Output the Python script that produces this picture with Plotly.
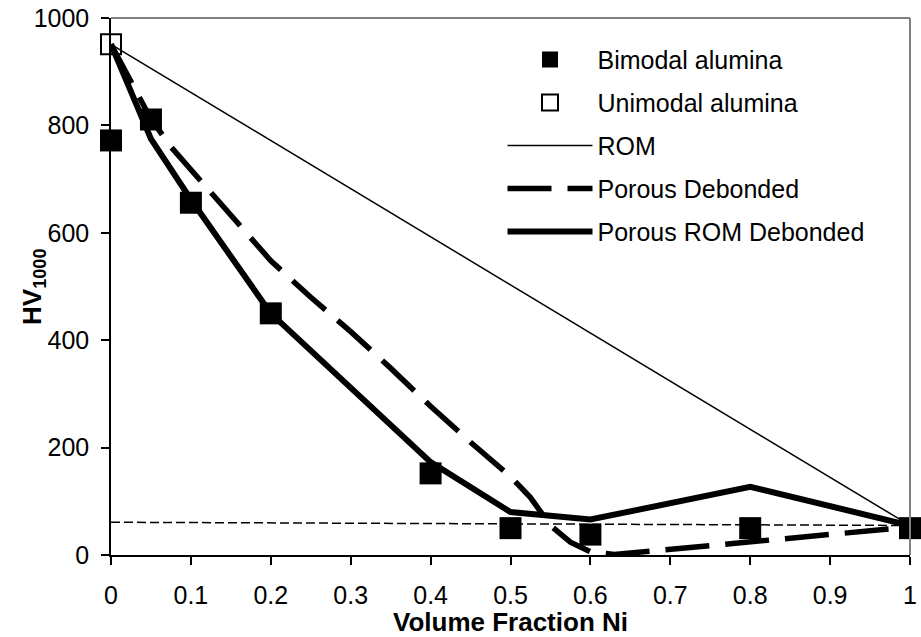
import plotly.graph_objects as go

# ---- data ----
bimodal_x = [0, 0.05, 0.1, 0.2, 0.4, 0.5, 0.6, 0.8, 1.0]
bimodal_y = [772, 811, 656, 450, 152, 50, 38, 50, 50]

unimodal_x = [0]
unimodal_y = [951]

rom_x = [0, 1.0]
rom_y = [951, 55]

pdeb_x = [0, 0.025, 0.05, 0.075, 0.1, 0.15, 0.2, 0.25, 0.3, 0.35, 0.4, 0.45,
          0.5, 0.525, 0.55, 0.575, 0.6, 0.63, 0.8, 1.0]
pdeb_y = [951, 880, 812, 760, 717, 632, 548, 480, 416, 348, 277, 210,
          146, 107, 55, 24, 6, 1, 25, 52]

prom_x = [0, 0.05, 0.1, 0.2, 0.4, 0.5, 0.6, 0.8, 1.0]
prom_y = [951, 775, 662, 450, 173, 80, 66, 127, 55]

hline_x = [0, 1.0]
hline_y = [61, 55]

x_ticks = [0, 0.1, 0.2, 0.3, 0.4, 0.5, 0.6, 0.7, 0.8, 0.9, 1.0]
x_ticklabels = ["0", "0.1", "0.2", "0.3", "0.4", "0.5", "0.6", "0.7", "0.8", "0.9", "1"]
y_ticks = [0, 200, 400, 600, 800, 1000]

FONT = "Liberation Sans, Arial, sans-serif"

fig = go.Figure()

fig.add_trace(go.Scatter(
    x=hline_x, y=hline_y, mode="lines", showlegend=False,
    line=dict(color="black", width=1.5, dash="9px,4px"), cliponaxis=False,
    hoverinfo="skip"))

fig.add_trace(go.Scatter(
    x=unimodal_x, y=unimodal_y, mode="markers", name="Unimodal alumina",
    legendgroup="g2", legendrank=2,
    marker=dict(symbol="square-open", size=20, color="black", line=dict(width=2, color="black")),
    cliponaxis=False))

fig.add_trace(go.Scatter(
    x=rom_x, y=rom_y, mode="lines", name="ROM", legendgroup="g3", legendrank=3,
    line=dict(color="black", width=1.5), cliponaxis=False))

fig.add_trace(go.Scatter(
    x=pdeb_x, y=pdeb_y, mode="lines", name="Porous Debonded", legendgroup="g4", legendrank=4,
    line=dict(color="black", width=5.5, dash="44px,16px"), cliponaxis=False))

fig.add_trace(go.Scatter(
    x=prom_x, y=prom_y, mode="lines", name="Porous ROM Debonded", legendgroup="g5", legendrank=5,
    line=dict(color="black", width=6), cliponaxis=False))

fig.add_trace(go.Scatter(
    x=bimodal_x, y=bimodal_y, mode="markers", name="Bimodal alumina",
    legendgroup="g1", legendrank=1,
    marker=dict(symbol="square", size=22, color="black"), cliponaxis=False))

fig.update_layout(
    width=921, height=637,
    margin=dict(l=111, r=4, t=17, b=82),
    paper_bgcolor="white", plot_bgcolor="white",
    font=dict(family=FONT, size=25, color="black"),
    showlegend=True,
    legend=dict(
        x=0.49, xanchor="left", y=0.965, yanchor="top",
        bgcolor="rgba(0,0,0,0)", borderwidth=0,
        font=dict(family=FONT, size=25, color="black"),
        traceorder="grouped", tracegroupgap=7.5, itemwidth=85,
    ),
    xaxis=dict(
        range=[0, 1], tickmode="array", tickvals=x_ticks, ticktext=x_ticklabels,
        showgrid=False, zeroline=False, showline=True, linecolor="black", linewidth=1.5,
        ticks="outside", ticklen=8, tickwidth=1.5, tickcolor="black",
        tickfont=dict(family=FONT, size=25), ticklabelstandoff=9,
        ticklabeloverflow="allow",
        title=dict(text="<b>Volume Fraction Ni</b>", font=dict(family=FONT, size=26), standoff=4),
    ),
    yaxis=dict(
        range=[0, 1000], tickmode="array", tickvals=y_ticks,
        showgrid=False, zeroline=False, showline=True, linecolor="black", linewidth=1.5,
        ticks="outside", ticklen=8, tickwidth=1.5, tickcolor="black",
        tickfont=dict(family=FONT, size=25), ticklabelstandoff=7,
        ticklabeloverflow="allow",
    ),
    shapes=[
        dict(type="line", xref="paper", yref="paper", x0=0, x1=1, y0=1, y1=1,
             line=dict(color="#808080", width=2)),
        dict(type="line", xref="paper", yref="paper", x0=1, x1=1, y0=0, y1=1,
             line=dict(color="#808080", width=2)),
    ],
    annotations=[
        dict(text="<b>HV<sub>1000</sub></b>", xref="paper", yref="paper",
             x=-0.097, y=0.5, xanchor="center", yanchor="middle", textangle=-90,
             showarrow=False, font=dict(family=FONT, size=26, color="black")),
    ],
)

fig.write_html("out.html")
